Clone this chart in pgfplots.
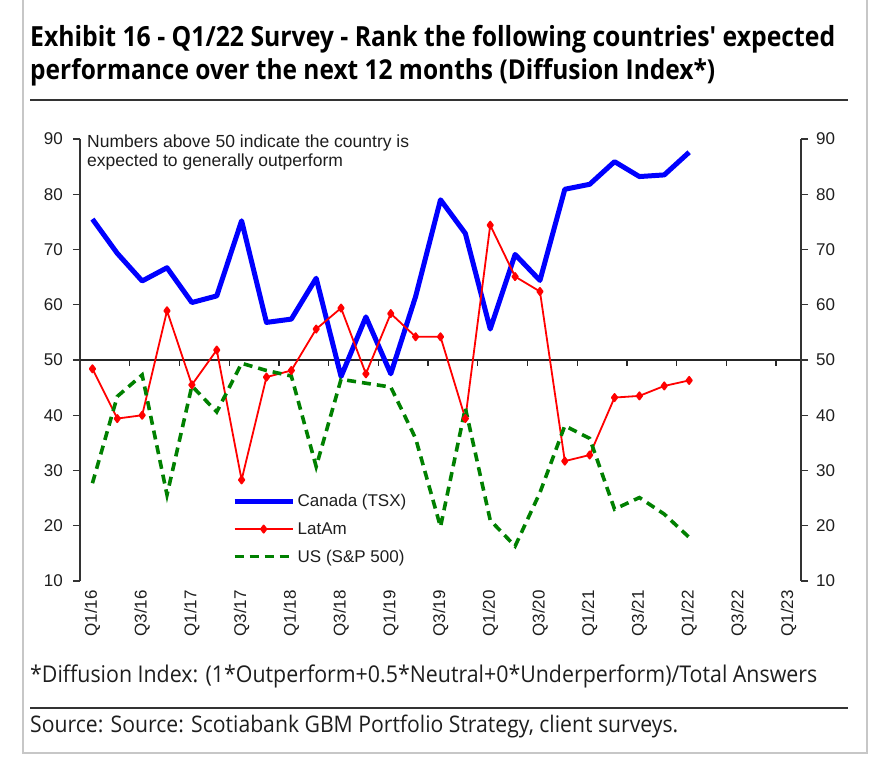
\documentclass[border=0pt]{standalone}
\usepackage{fontspec}
\setmainfont{Liberation Sans}
\newfontfamily\titlefont{Open Sans}
\usepackage{graphicx}
\usepackage{pgfplots}
\pgfplotsset{compat=1.18}

\newlength\fitw
\newcommand\fitline[3]{\settowidth\fitw{#3}\pgfmathsetmacro\fitsf{#1/\fitw}\pgfmathsetmacro\fitsv{\fitsf*#2}\scalebox{\fitsf}[\fitsv]{#3}}

\pgfplotstableread{
i can lat us
0 75.5 48.4 27.7
1 69.3 39.4 43.4
2 64.3 40.0 47.3
3 66.7 58.9 25.6
4 60.4 45.5 45.3
5 61.6 51.8 40.6
6 75.2 28.3 49.4
7 56.8 46.9 48.1
8 57.4 48.1 47.1
9 64.8 55.6 30.7
10 47.0 59.4 46.5
11 57.8 47.5 45.8
12 47.5 58.4 45.1
13 61.5 54.2 35.8
14 79.0 54.2 19.8
15 72.9 39.4 41.3
16 55.6 74.4 21.0
17 69.1 65.1 16.3
18 64.4 62.4 26.0
19 80.9 31.7 38.1
20 81.8 32.8 35.8
21 85.9 43.2 23.0
22 83.2 43.5 25.1
23 83.5 45.3 22.1
24 87.6 46.3 17.9
}\datatable

\definecolor{cblue}{RGB}{0,0,255}
\definecolor{cred}{RGB}{255,0,0}
\definecolor{cgreen}{RGB}{0,128,0}
\definecolor{txt}{RGB}{30,30,30}

\begin{document}
\begin{tikzpicture}
\useasboundingbox (0pt,0pt) rectangle (886pt,759pt);
% frame
\draw[draw=black!22, line width=1.3pt] (23pt,759pt) -- (23pt,6pt) -- (867pt,6pt) -- (867pt,759pt);
% rules
\draw[line width=1.8pt, black!80] (30pt,659pt) -- (848pt,659pt);
\draw[line width=1.8pt, black!80] (30pt,51pt) -- (848pt,51pt);
% title
\node[anchor=base west, inner sep=0pt, text=black] at (30pt,712pt) {\fitline{805}{1.12}{\titlefont\bfseries\fontsize{26}{30}\selectfont Exhibit 16 - Q1/22 Survey - Rank the following countries\textquotesingle{} expected}};
\node[anchor=base west, inner sep=0pt, text=black] at (30pt,679pt) {\fitline{685}{1.12}{\titlefont\bfseries\fontsize{26}{30}\selectfont performance over the next 12 months (Diffusion Index*)}};
% notes
\node[anchor=base west, inner sep=0pt, text=txt] at (30pt,76pt) {\fitline{787}{1.08}{\titlefont\fontsize{21}{25}\selectfont *Diffusion Index: (1*Outperform+0.5*Neutral+0*Underperform)/Total Answers}};
\node[anchor=base west, inner sep=0pt, text=txt] at (30pt,26pt) {\fitline{648}{1.08}{\titlefont\fontsize{21}{25}\selectfont Source: Source: Scotiabank GBM Portfolio Strategy, client surveys.}};
% annotation
\node[anchor=base west, inner sep=0pt, text=txt, font=\fontsize{17.5}{19}\selectfont] at (87pt,611pt) {Numbers above 50 indicate the country is};
\node[anchor=base west, inner sep=0pt, text=txt, font=\fontsize{17.5}{19}\selectfont] at (87pt,592.5pt) {expected to generally outperform};

\begin{axis}[
  at={(80pt,178pt)}, anchor=south west,
  width=721pt, height=442pt, scale only axis,
  xmin=-0.5, xmax=28.5, ymin=10, ymax=90,
  separate axis lines,
  x axis line style={draw=none},
  y axis line style={draw=black!80, line width=1.3pt},
  ytick={10,20,...,90},
  ytick pos=left,
  xtick={0,2,...,28},
  xticklabels={Q1/16,Q3/16,Q1/17,Q3/17,Q1/18,Q3/18,Q1/19,Q3/19,Q1/20,Q3/20,Q1/21,Q3/21,Q1/22,Q3/22,Q1/23},
  x tick style={draw=none},
  y tick style={draw=black!80, line width=1.3pt},
  tick align=outside,
  major tick length=7pt,
  xticklabel style={rotate=90, anchor=east, inner sep=0pt, text=txt, font=\fontsize{17}{20}\selectfont},
  yticklabel style={inner sep=0pt, text=txt, font=\fontsize{17}{20}\selectfont},
  yticklabel shift=10pt,
  xticklabel shift=2pt,
  /pgf/number format/assume math mode=true,
  legend image code/.code={\draw[mark repeat=2, mark phase=2, #1] plot coordinates {(0pt,0pt) (29pt,0pt) (58pt,0pt)};},
  legend style={at={(0.2108,0.2014)}, anchor=north west, draw=none, fill=none, inner sep=0pt, row sep=9pt, font=\fontsize{17}{20}\selectfont, text=txt, nodes={inner sep=2.5pt}},
  legend cell align=left,
]
\draw[black!85, line width=1.3pt] (axis cs:-0.5,50) -- (axis cs:28.5,50);
\pgfplotsinvokeforeach{1.5,3.5,...,27.5}{\draw[black!85, line width=1.3pt] (axis cs:#1,50) -- ++(0pt,-6pt);}
\addplot[cblue, line width=5pt, line join=round, mark=none] table[x=i, y=can] {\datatable};
\addlegendentry{Canada (TSX)}
\addplot[cred, line width=1.8pt, line join=round, mark=diamond*, mark size=3.6pt, mark options={solid, fill=cred}] table[x=i, y=lat] {\datatable};
\addlegendentry{LatAm}
\addplot[cgreen, line width=3.6pt, dash pattern=on 9pt off 6pt, mark=none] table[x=i, y=us] {\datatable};
\addlegendentry{US (S\&P 500)}
\end{axis}

\begin{axis}[
  at={(80pt,178pt)}, anchor=south west,
  width=721pt, height=442pt, scale only axis,
  xmin=-0.5, xmax=28.5, ymin=10, ymax=90,
  axis x line=none,
  axis y line*=right,
  y axis line style={draw=black!80, line width=1.3pt, -},
  y tick style={draw=black!80, line width=1.3pt},
  ytick={10,20,...,90},
  tick align=outside,
  major tick length=7pt,
  yticklabel style={inner sep=0pt, text=txt, font=\fontsize{17}{20}\selectfont},
  yticklabel shift=8pt,
  /pgf/number format/assume math mode=true,
]
\addplot[draw=none] coordinates {(0,50)};
\end{axis}
\end{tikzpicture}
\end{document}
